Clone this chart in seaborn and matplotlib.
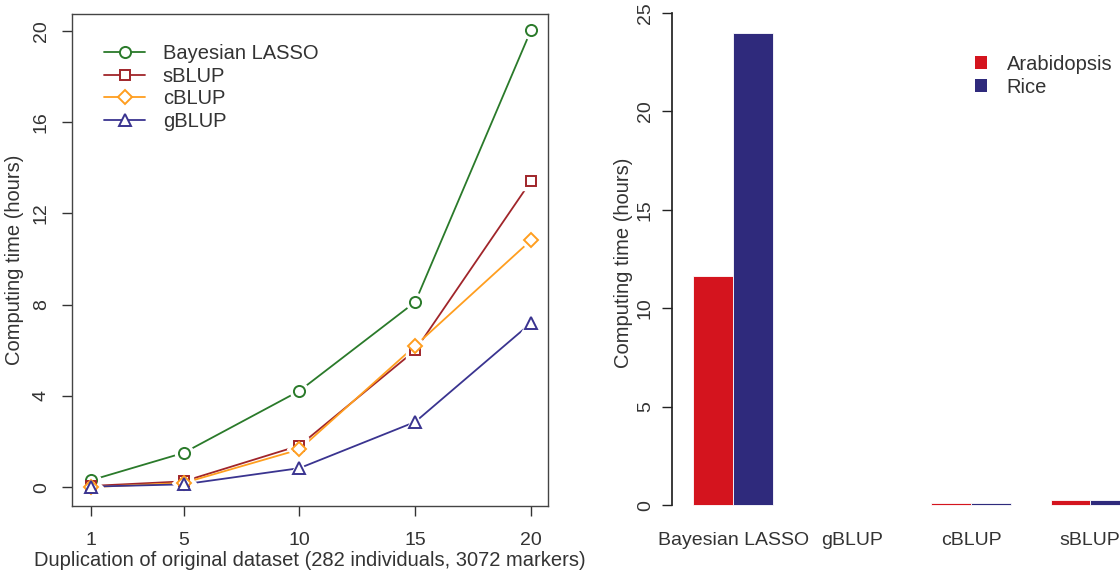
import matplotlib
matplotlib.use("Agg")
import matplotlib.pyplot as plt
import seaborn as sns
import pandas as pd
from matplotlib.lines import Line2D
from matplotlib.patches import Patch

# ---------------- data ----------------
duplication = [1, 5, 10, 15, 20]
bayes_lasso = [0.30, 1.50, 4.22, 8.12, 20.05]
sblup = [0.05, 0.25, 1.82, 6.00, 13.43]
cblup = [0.00, 0.18, 1.65, 6.20, 10.83]
gblup = [0.02, 0.12, 0.83, 2.86, 7.20]
methods = ["Bayesian LASSO", "sBLUP", "cBLUP", "gBLUP"]

bar_methods = ["Bayesian LASSO", "gBLUP", "cBLUP", "sBLUP"]
arabidopsis = [11.65, 0.01, 0.11, 0.26]
rice = [23.96, 0.01, 0.11, 0.26]
species = ["Arabidopsis", "Rice"]

line_colors = {"Bayesian LASSO": "#2A7A2A", "sBLUP": "#A0252A",
               "cBLUP": "#FF9E1F", "gBLUP": "#3A3490"}
markers = {"Bayesian LASSO": "o", "sBLUP": "s", "cBLUP": "D", "gBLUP": "^"}
msizes = {"Bayesian LASSO": 8, "sBLUP": 7.5, "cBLUP": 7, "gBLUP": 9}
bar_colors = {"Arabidopsis": "#D4141E", "Rice": "#2F2A7C"}

sns.set_theme(style="white")
plt.rcParams["font.family"] = ["Liberation Sans", "DejaVu Sans"]
plt.rcParams["font.size"] = 14

W, H = 1120, 575
fig = plt.figure(figsize=(W / 100, H / 100), dpi=100)

def px_axes(x0, y0, x1, y1):
    return fig.add_axes([x0 / W, 1 - y1 / H, (x1 - x0) / W, (y1 - y0) / H])

TXT = "#333333"
FS = 14
LFS = 14.5

# ---------------- left panel ----------------
ax1 = px_axes(72, 14, 548, 506)
long = pd.DataFrame({
    "dup": duplication * 4,
    "time": bayes_lasso + sblup + cblup + gblup,
    "method": sum([[m] * len(duplication) for m in methods], []),
})
sns.lineplot(data=long, x="dup", y="time", hue="method", palette=line_colors,
             hue_order=methods, ax=ax1, legend=False, lw=1.3, zorder=2)
for m in methods:
    sub = long[long.method == m]
    ax1.plot(sub.dup, sub.time, ls="none", marker=markers[m], ms=msizes[m] + 5,
             mfc="white", mec="white", zorder=3)
for m in methods:
    sub = long[long.method == m]
    ax1.plot(sub.dup, sub.time, ls="none", marker=markers[m], ms=msizes[m],
             mfc="white", mec=line_colors[m], mew=1.4, zorder=4)

ax1.set_xlim(0.18, 20.73)
ax1.set_ylim(-0.83, 20.75)
ax1.set_xticks(duplication)
ax1.set_yticks([0, 4, 8, 12, 16, 20])
ax1.set_yticklabels(["0", "4", "8", "12", "16", "20"], rotation=90, va="center")
ax1.tick_params(axis="both", direction="out", length=7, width=1, colors="#333333",
                labelsize=FS, labelcolor=TXT, left=True, bottom=True)
ax1.tick_params(axis="x", pad=12)
ax1.tick_params(axis="y", pad=9)
for s in ax1.spines.values():
    s.set_color("#444444")
    s.set_linewidth(1)
ax1.set_xlabel("Duplication of original dataset (282 individuals, 3072 markers)",
               fontsize=LFS, color=TXT, labelpad=1)
ax1.set_ylabel("Computing time (hours)", fontsize=LFS, color=TXT, labelpad=6)

handles = [Line2D([0], [0], color=line_colors[m], lw=1.3, marker=markers[m],
                  ms=msizes[m], mfc="white", mec=line_colors[m], mew=1.4)
           for m in methods]
ax1.legend(handles, methods, loc="upper left", bbox_to_anchor=(0.03, 0.975),
           frameon=False, fontsize=LFS, handlelength=2.0, handletextpad=0.9,
           labelspacing=0.17, labelcolor=TXT)

# ---------------- right panel ----------------
ax2 = px_axes(672, 0, 1120, 525)
bars = pd.DataFrame({
    "method": bar_methods * 2,
    "time": arabidopsis + rice,
    "species": sum([[s] * len(bar_methods) for s in species], []),
})
sns.barplot(data=bars, x="method", y="time", hue="species", order=bar_methods,
            hue_order=species, palette=bar_colors, width=0.667, gap=0,
            saturation=1, edgecolor="white", linewidth=0.6, ax=ax2, legend=False)
ax2.set_xlim(-0.513, 3.25)
ax2.set_ylim(-1.0, 25.66)
ax2.set_yticks([0, 5, 10, 15, 20, 25])
ax2.set_yticklabels(["0", "5", "10", "15", "20", "25"], rotation=90, va="center")
for name in ["top", "right", "bottom"]:
    ax2.spines[name].set_visible(False)
ax2.spines["left"].set_bounds(0, 25)
ax2.spines["left"].set_color("#222222")
ax2.tick_params(axis="y", direction="out", length=7, width=1, colors="#222222",
                labelsize=FS, labelcolor=TXT, left=True, pad=6)
ax2.tick_params(axis="x", length=0, labelsize=FS, labelcolor=TXT, pad=5)
ax2.set_xlabel("")
ax2.set_ylabel("Computing time (hours)", fontsize=LFS, color=TXT, labelpad=3)

leg_handles = [Patch(facecolor=bar_colors[s], edgecolor="none") for s in species]
ax2.legend(leg_handles, species, loc="upper left", bbox_to_anchor=(0.635, 0.93),
           frameon=False, fontsize=LFS, handlelength=0.6, handleheight=0.6,
           handletextpad=1.0, labelspacing=0.2, labelcolor=TXT)

fig.savefig("out.png", dpi=100)
